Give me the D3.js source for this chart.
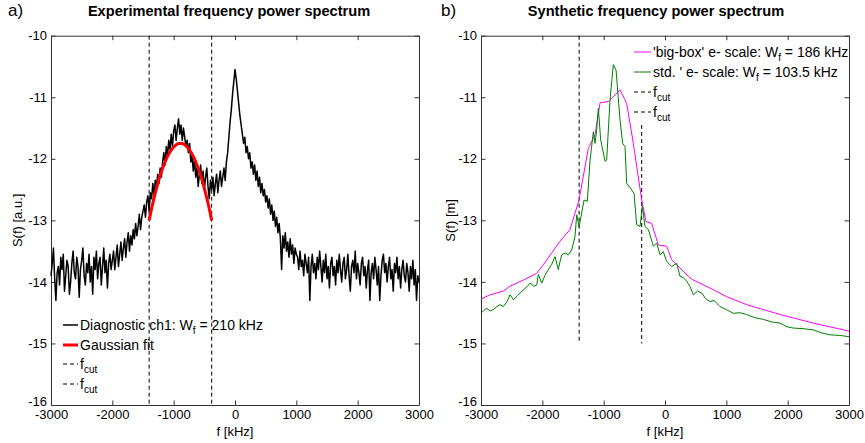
<!DOCTYPE html>
<html><head><meta charset="utf-8">
<script src="https://cdn.jsdelivr.net/npm/d3@7"></script>
<style>
body{margin:0;background:#fff}
text{font-family:"Liberation Sans",Arial,Helvetica,sans-serif;fill:#000}
</style>
</head><body>
<svg id="c" width="865" height="443"></svg>
<script>
// ---------- data ----------
const fTicks = [-3000, -2000, -1000, 0, 1000, 2000, 3000];
const sTicks = [-16, -15, -14, -13, -12, -11, -10];

// experimental spectrum, sampled every 20 kHz from -3000 kHz
const expStartF = -3000, expStepF = 20;
const expS = [
 -13.90,-13.70,-13.45,-13.95,-14.30,-13.85,-13.75,-14.05,-13.60,-13.80,
 -13.55,-14.15,-13.90,-13.65,-13.75,-14.20,-14.00,-13.70,-13.50,-13.85,
 -13.95,-13.60,-13.75,-14.25,-13.80,-13.65,-13.45,-13.90,-14.05,-13.70,
 -13.85,-13.55,-14.00,-13.75,-14.20,-13.60,-13.80,-13.50,-13.95,-13.70,
 -13.60,-14.05,-13.75,-13.45,-13.85,-13.65,-14.10,-13.70,-13.55,-13.80,
 -13.65,
 -13.50,-13.80,-13.60,-13.40,-13.75,-13.55,-13.35,-13.65,-13.45,-13.30,
 -13.60,-13.35,-13.20,-13.50,-13.25,-13.40,-13.15,-13.30,-13.05,-13.25,
 -13.10,-12.90,-13.15,-12.95,-12.85,
 -12.75,-12.95,-12.70,-12.60,-12.85,-12.55,-12.65,-12.40,-12.60,-12.35,
 -12.45,-12.25,-12.40,-12.15,-12.30,
 -12.05,-11.90,-12.10,-11.80,-11.95,-11.70,-11.85,-11.60,-11.80,-11.55,
 -11.45,-11.70,-11.50,-11.35,-11.60,-11.45,-11.70,-11.50,-11.65,-11.80,
 -11.70,-11.90,-11.75,-12.05,-11.95,-12.20,-12.00,-12.30,-12.15,-12.45,
 -12.25,-12.10,-12.40,-12.20,-12.50,-12.30,-12.15,-12.45,-12.65,-12.35,
 -12.50,-12.30,-12.60,-12.40,-12.25,-12.55,-12.35,-12.20,-12.45,-12.30,
 -12.15,-12.35,-12.05,-11.90,
 -11.65,-11.40,-11.20,-10.95,-10.75,-10.55,-10.70,-10.90,-11.10,-11.30,-11.45,
 -11.60,-11.75,-11.65,-11.90,-11.80,-12.00,-11.90,-12.15,-12.05,-12.25,
 -12.10,-12.35,-12.20,-12.45,-12.30,-12.55,-12.40,-12.60,-12.50,-12.70,
 -12.60,-12.80,-12.65,-12.90,-12.75,-13.00,-12.85,-13.10,-12.95,-13.20,
 -13.05,-13.30,-13.80,-13.25,-13.45,-13.20,-13.50,-13.35,-13.60,-13.30,
 -13.55,-13.40,-13.70,-13.45,-13.55,
 -13.60,-13.80,-13.50,-13.75,-13.65,-13.90,-13.55,-13.70,-13.85,-13.60,
 -14.30,-13.75,-13.55,-13.85,-13.70,-13.95,-13.60,-13.80,-13.50,-13.75,
 -14.00,-13.65,-13.85,-13.55,-13.95,-13.75,-14.10,-13.70,-13.60,-13.90,
 -13.75,-14.05,-13.65,-13.85,-13.55,-13.80,-14.00,-13.70,-13.60,-13.95,
 -13.80,-13.55,-13.90,-14.15,-13.75,-13.65,-13.85,-13.50,-13.95,-13.70,
 -13.85,-14.05,-13.70,-13.60,-13.90,-13.75,-14.10,-13.80,-13.65,-14.30,
 -13.85,-13.70,-13.95,-13.60,-13.80,-14.05,-13.75,-14.30,-13.90,-13.65,
 -13.55,-13.85,-13.70,-14.00,-13.75,-13.60,-13.95,-13.80,-14.15,-13.70,
 -13.85,-13.60,-13.95,-13.75,-14.10,-13.80,-13.65,-13.90,-14.00,-13.70,
 -13.85,-14.15,-13.75,-13.95,-13.65,-14.05,-13.80,-14.30,-13.90,-14.00
];

// Gaussian fit
const gaussF = [-1400,-1340,-1280,-1220,-1160,-1100,-1040,-980,-920,-890,-860,-800,-740,-680,-620,-560,-500,-440,-380];
const gaussS = [-13.00,-12.72,-12.48,-12.27,-12.10,-11.96,-11.86,-11.79,-11.75,-11.75,-11.75,-11.79,-11.86,-11.96,-12.10,-12.27,-12.48,-12.72,-13.00];

const fcut = [-1400, -380];
const synthCutTop = [-10, -11.45];
const synthCutBottom = -15;

// synthetic spectra
const bigBoxF = [-3000,-2853,-2636,-2527,-2310,-2092,-1983,-1712,-1549,-1402,-1250,-1141,-1059,-924,-733,-625,-516,-380,-309,-217,-108,28,109,381,462,734,1006,1332,1876,2419,3000];
const bigBoxS = [-14.28,-14.21,-14.15,-14.07,-13.97,-13.86,-13.72,-13.34,-13.15,-12.67,-11.83,-11.61,-11.09,-11.07,-10.88,-11.10,-11.75,-12.67,-13.02,-13.05,-13.40,-13.42,-13.64,-13.91,-13.97,-14.10,-14.24,-14.37,-14.53,-14.67,-14.80];

const stdF = [-3000,-2950,-2907,-2850,-2799,-2740,-2690,-2636,-2580,-2527,-2472,-2400,-2310,-2250,-2201,-2140,-2092,-2065,-2010,-1960,-1902,-1850,-1793,-1739,-1712,-1684,-1630,-1576,-1521,-1467,-1440,-1402,-1369,-1320,-1266,-1222,-1168,-1141,-1114,-1087,-1049,-978,-951,-896,-842,-798,-733,-690,-652,-625,-559,-505,-462,-407,-369,-326,-271,-190,-135,-81,-27,28,109,191,245,300,354,410,462,530,598,660,734,800,897,1000,1115,1220,1332,1460,1604,1740,1876,1990,2093,2250,2419,2560,2691,2850,3000];
const stdS = [-14.51,-14.46,-14.43,-14.47,-14.45,-14.40,-14.37,-14.40,-14.33,-14.21,-14.29,-14.22,-14.13,-14.08,-14.02,-14.07,-14.05,-13.88,-14.02,-13.90,-13.80,-13.72,-13.59,-13.80,-13.67,-13.56,-13.53,-13.56,-13.48,-13.26,-12.91,-13.10,-12.94,-12.67,-12.69,-12.02,-11.56,-11.75,-11.53,-11.18,-11.69,-12.04,-12.02,-11.04,-10.47,-10.56,-11.37,-11.75,-11.80,-12.40,-12.48,-12.56,-13.07,-13.10,-12.77,-13.10,-13.15,-13.42,-13.37,-13.56,-13.51,-13.67,-13.75,-13.70,-13.91,-13.93,-13.99,-14.08,-14.21,-14.15,-14.18,-14.27,-14.32,-14.30,-14.40,-14.45,-14.51,-14.50,-14.53,-14.58,-14.61,-14.65,-14.67,-14.73,-14.75,-14.76,-14.78,-14.83,-14.86,-14.87,-14.89];

// ---------- drawing ----------
const svg = d3.select("#c");
const plotTop = 35.7, plotBottom = 405;

function panel(opt) {
  const x = d3.scaleLinear().domain([-3000, 3000]).range([opt.x0, opt.x1]);
  const y = d3.scaleLinear().domain([-16, -10]).range([plotBottom, plotTop]);
  const g = svg.append("g");
  const fmt = d => String(d);

  const axB = g.append("g").attr("transform", `translate(0,${plotBottom})`)
    .call(d3.axisBottom(x).tickValues(fTicks).tickSizeInner(-4.5).tickSizeOuter(0).tickPadding(5).tickFormat(fmt));
  const axT = g.append("g").attr("transform", `translate(0,${plotTop})`)
    .call(d3.axisTop(x).tickValues(fTicks).tickSizeInner(-4.5).tickSizeOuter(0).tickFormat(""));
  const axL = g.append("g").attr("transform", `translate(${opt.x0},0)`)
    .call(d3.axisLeft(y).tickValues(sTicks).tickSizeInner(-4.5).tickSizeOuter(0).tickPadding(4).tickFormat(fmt));
  const axR = g.append("g").attr("transform", `translate(${opt.x1},0)`)
    .call(d3.axisRight(y).tickValues(sTicks).tickSizeInner(-4.5).tickSizeOuter(0).tickFormat(""));
  [axB, axT, axL, axR].forEach(a => {
    a.attr("font-size", 13).attr("font-family", '"Liberation Sans",Arial,sans-serif');
    a.selectAll("path,line").attr("stroke", "#333").attr("stroke-width", 1);
    a.selectAll("text").attr("fill", "#000");
  });
  axL.selectAll(".tick text").filter(d => d === -16).attr("y", -4);

  svg.append("text").attr("x", opt.titleX).attr("y", 16).attr("text-anchor", "middle")
    .attr("font-size", 14.6).attr("font-weight", "bold").text(opt.title);
  svg.append("text").attr("x", opt.tagX).attr("y", 16).attr("font-size", 17).text(opt.tag);
  svg.append("text").attr("x", (opt.x0 + opt.x1) / 2).attr("y", 436).attr("text-anchor", "middle")
    .attr("font-size", 13).text("f [kHz]");
  svg.append("text").attr("transform", `translate(${opt.ylabX},${(plotTop + plotBottom) / 2}) rotate(-90)`)
    .attr("text-anchor", "middle").attr("font-size", 13).text(opt.ylab);

  return {g, x, y};
}

function legend(items, sx0, sx1, tx) {
  items.forEach(it => {
    const ln = svg.append("line").attr("x1", sx0).attr("x2", sx1).attr("y1", it.y).attr("y2", it.y)
      .attr("stroke", it.color).attr("stroke-width", it.width || 1);
    if (it.dash) ln.attr("stroke-dasharray", it.dash);
    const t = svg.append("text").attr("x", tx).attr("y", it.y + 4.5).attr("font-size", 14);
    t.append("tspan").text(it.pre);
    if (it.sub) t.append("tspan").attr("font-size", 10).attr("dy", 4).text(it.sub);
    if (it.post) t.append("tspan").attr("dy", -4).text(it.post);
  });
}

// ---- panel a ----
const A = panel({x0: 51, x1: 419, title: "Experimental frequency power spectrum", titleX: 229,
                 tag: "a)", tagX: 8, ylab: "S(f) [a.u.]", ylabX: 22});
fcut.forEach(f => {
  A.g.append("line").attr("x1", A.x(f)).attr("x2", A.x(f)).attr("y1", A.y(-10)).attr("y2", A.y(-16))
    .attr("stroke", "#000").attr("stroke-width", 1).attr("stroke-dasharray", "4,3");
});
const expData = expS.map((s, i) => [expStartF + i * expStepF, s]);
A.g.append("path").datum(expData)
  .attr("d", d3.line().x(d => A.x(d[0])).y(d => A.y(d[1])))
  .attr("fill", "none").attr("stroke", "#000").attr("stroke-width", 1.5).attr("stroke-linejoin", "round");
A.g.append("path").datum(gaussF.map((f, i) => [f, gaussS[i]]))
  .attr("d", d3.line().curve(d3.curveMonotoneX).x(d => A.x(d[0])).y(d => A.y(d[1])))
  .attr("fill", "none").attr("stroke", "#f00").attr("stroke-width", 3);

legend([
  {y: 325, color: "#000", width: 1.5, pre: "Diagnostic ch1: W", sub: "f", post: " = 210 kHz"},
  {y: 345, color: "#f00", width: 3, pre: "Gaussian fit"},
  {y: 364, color: "#000", dash: "4,3", pre: "f", sub: "cut"},
  {y: 384, color: "#000", dash: "4,3", pre: "f", sub: "cut"}
], 63, 78, 80);

// ---- panel b ----
const B = panel({x0: 481, x1: 849, title: "Synthetic frequency power spectrum", titleX: 656,
                 tag: "b)", tagX: 441, ylab: "S(f) [m]", ylabX: 455});
fcut.forEach((f, i) => {
  B.g.append("line").attr("x1", B.x(f)).attr("x2", B.x(f)).attr("y1", B.y(synthCutTop[i])).attr("y2", B.y(synthCutBottom))
    .attr("stroke", "#000").attr("stroke-width", 1).attr("stroke-dasharray", "4,3");
});
B.g.append("path").datum(bigBoxF.map((f, i) => [f, bigBoxS[i]]))
  .attr("d", d3.line().x(d => B.x(d[0])).y(d => B.y(d[1])))
  .attr("fill", "none").attr("stroke", "#ff00ff").attr("stroke-width", 1);
B.g.append("path").datum(stdF.map((f, i) => [f, stdS[i]]))
  .attr("d", d3.line().x(d => B.x(d[0])).y(d => B.y(d[1])))
  .attr("fill", "none").attr("stroke", "#007f00").attr("stroke-width", 1);

legend([
  {y: 52, color: "#ff00ff", pre: "'big-box' e- scale: W", sub: "f", post: " = 186 kHz"},
  {y: 72, color: "#007f00", pre: "std. ' e- scale: W", sub: "f", post: " = 103.5 kHz"},
  {y: 92, color: "#000", dash: "4,3", pre: "f", sub: "cut"},
  {y: 112, color: "#000", dash: "4,3", pre: "f", sub: "cut"}
], 634, 651, 653);
</script>
</body></html>
